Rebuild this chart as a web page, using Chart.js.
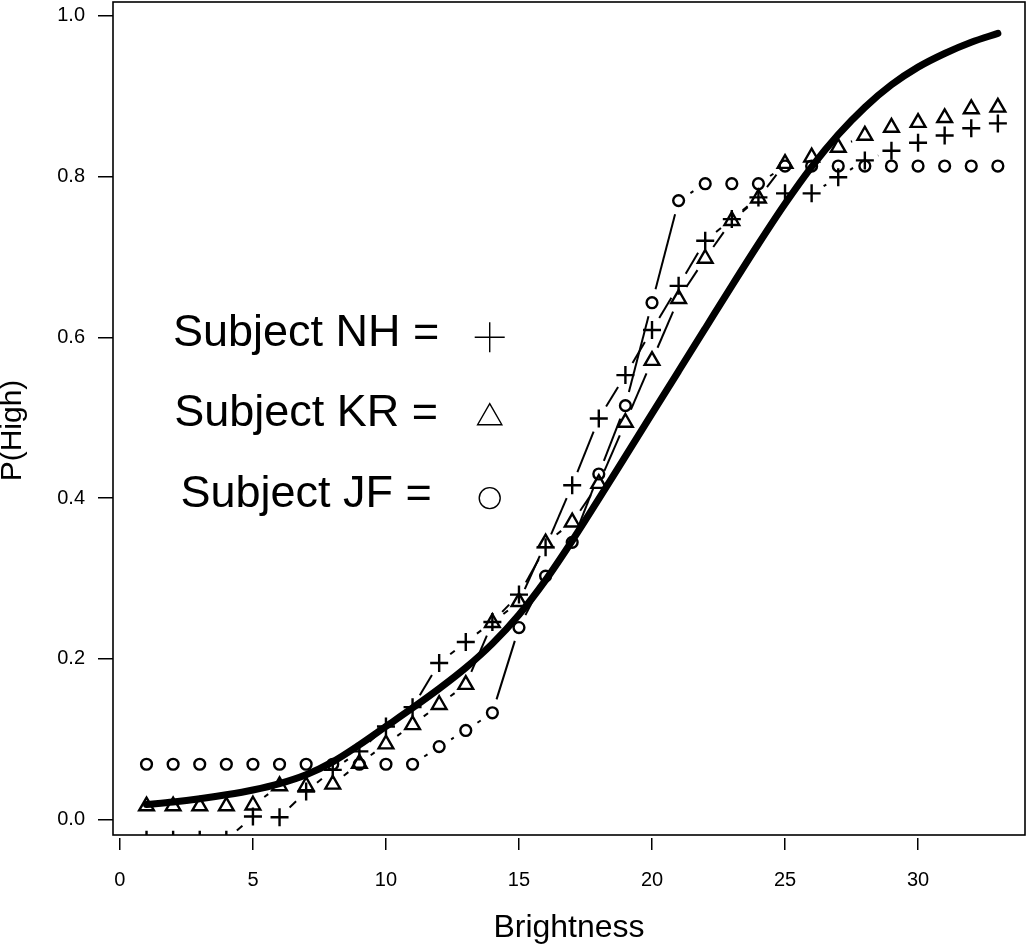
<!DOCTYPE html>
<html><head><meta charset="utf-8">
<script src="https://cdn.jsdelivr.net/npm/chart.js@4.4.1/dist/chart.umd.min.js"></script>
<style>html,body{margin:0;padding:0;background:#fff;} #wrap{width:1029px;height:947px;position:relative;}</style>
</head><body><div id="wrap"><canvas id="c"></canvas></div>
<script>
// ---- data ----
const brightness = [1,2,3,4,5,6,7,8,9,10,11,12,13,14,15,16,17,18,19,20,21,22,23,24,25,26,27,28,29,30,31,32,33];
const subjectNH = [-0.025,-0.025,-0.025,-0.025,0.004,0.003,0.035,0.062,0.085,0.116,0.140,0.195,0.221,0.246,0.280,0.339,0.416,0.499,0.553,0.609,0.664,0.720,0.747,0.774,0.779,0.779,0.799,0.820,0.832,0.842,0.851,0.860,0.866];
const subjectKR = [0.017,0.017,0.017,0.017,0.018,0.042,0.042,0.044,0.070,0.094,0.118,0.143,0.168,0.245,0.271,0.344,0.370,0.418,0.494,0.571,0.648,0.698,0.745,0.773,0.816,0.824,0.836,0.851,0.861,0.867,0.873,0.884,0.886];
const subjectJF = [0.069,0.069,0.069,0.069,0.069,0.069,0.069,0.069,0.069,0.069,0.069,0.091,0.111,0.133,0.239,0.303,0.345,0.430,0.515,0.643,0.770,0.791,0.791,0.791,0.813,0.813,0.813,0.813,0.813,0.813,0.813,0.813,0.813];
const fitted = [0.019,0.022,0.026,0.031,0.037,0.045,0.056,0.072,0.093,0.116,0.139,0.163,0.189,0.219,0.255,0.298,0.347,0.399,0.452,0.505,0.558,0.611,0.664,0.716,0.766,0.812,0.852,0.886,0.914,0.936,0.953,0.967,0.978];
const xTicks = [0,5,10,15,20,25,30];
const yTicks = [0.0,0.2,0.4,0.6,0.8,1.0];
const legendLabels = ['Subject NH =','Subject KR =','Subject JF ='];
const legendSymbols = ['cross','triangle','circle'];
const legendRows = [0.6,0.5,0.4];
const xTitle = 'Brightness';
const yTitle = 'P(High)';

// ---- rendering ----
const FONT = '"Liberation Sans", Arial, Helvetica, sans-serif';
const TRIM = 14; // R type="b" gap around points (px)
function trimmedDash(c){
  const dx = c.p1.x - c.p0.x, dy = c.p1.y - c.p0.y;
  const L = Math.hypot(dx, dy);
  const uniq = 100000 + c.p0DataIndex;
  if (L <= 2*TRIM) return [0, uniq];
  return [0, TRIM, L - 2*TRIM, uniq];
}
const xy = arr => brightness.map((b,i)=>({x:b, y:arr[i]}));

function series(data, style, radius){
  return {
    data: xy(data), showLine:true, borderColor:'#000', borderWidth:2, tension:0,
    pointStyle: style, pointRadius: radius, pointHoverRadius: radius,
    pointBorderColor:'#000', pointBackgroundColor:'rgba(0,0,0,0)', pointBorderWidth:2.4,
    segment:{ borderDash: trimmedDash }
  };
}

const datasets = [
  { data: xy(fitted), showLine:true, borderColor:'#000', borderWidth:7, pointRadius:0,
    cubicInterpolationMode:'monotone', borderCapStyle:'round', borderJoinStyle:'round' },
  series(subjectNH, 'cross', 9),
  series(subjectKR, 'triangle', 8.5),
  series(subjectJF, 'circle', 5.4)
];
const legendRadius = {cross:15, triangle:14, circle:10.5};
legendSymbols.forEach((s,i)=>{
  datasets.push({ data:[{x:13.9, y:legendRows[i]}], showLine:false, pointStyle:s,
    pointRadius:legendRadius[s], pointHoverRadius:legendRadius[s], pointBorderWidth:1.4,
    pointBorderColor:'#000', pointBackgroundColor:'rgba(0,0,0,0)' });
});

const boxPlugin = {
  id:'box',
  afterDatasetsDraw(chart){
    const {ctx, chartArea:a} = chart;
    ctx.save(); ctx.strokeStyle='#000'; ctx.lineWidth=1.6;
    ctx.strokeRect(a.left, a.top, a.right-a.left, a.bottom-a.top);
    ctx.restore();
  }
};
const textPlugin = {
  id:'legendText',
  afterDatasetsDraw(chart){
    const {ctx, chartArea:a, scales:{x, y}} = chart;
    ctx.save();
    ctx.fillStyle='#000'; ctx.font = '45px ' + FONT;
    ctx.textAlign='center'; ctx.textBaseline='middle';
    legendLabels.forEach((t,i)=>{
      ctx.fillText(t, x.getPixelForValue(7), y.getPixelForValue(legendRows[i]) - 4);
    });
    // y-axis title
    ctx.font = '30px ' + FONT;
    ctx.translate(13, (a.top + a.bottom)/2 + 12);
    ctx.rotate(-Math.PI/2);
    ctx.fillText(yTitle, 0, 0);
    ctx.restore();
  }
};

new Chart(document.getElementById('c'), {
  type:'line',
  data:{ datasets },
  options:{
    responsive:true, maintainAspectRatio:false, animation:false, devicePixelRatio:1,
    layout:{ autoPadding:false, padding:{left:0, top:2, right:4, bottom:0} },
    plugins:{ legend:{display:false}, tooltip:{enabled:false} },
    events:[],
    scales:{
      x:{ type:'linear', min:-0.26, max:34.02,
        afterBuildTicks: s => { s.ticks = xTicks.map(v=>({value:v})); },
        afterFit: s => { s.height = 112; s.paddingLeft = 0; s.paddingRight = 0; s.paddingTop = 0; s.paddingBottom = 0; },
        grid:{ drawOnChartArea:false, drawTicks:true, tickLength:15, color:'#000', lineWidth:1.5, tickBorderDash:[0,3,12,100] },
        border:{ display:false },
        ticks:{ color:'#000', font:{family:FONT, size:20}, padding:18, maxRotation:0, autoSkip:false, callback: v => String(v) },
        title:{ display:true, text:xTitle, color:'#000', font:{family:FONT, size:32}, padding:{top:0, bottom:0} }
      },
      y:{ type:'linear', min:-0.019, max:1.017,
        afterBuildTicks: s => { s.ticks = yTicks.map(v=>({value:v})); },
        afterFit: s => { s.width = 113; s.paddingLeft = 0; s.paddingRight = 0; s.paddingTop = 0; s.paddingBottom = 0; },
        grid:{ drawOnChartArea:false, drawTicks:true, tickLength:15, color:'#000', lineWidth:1.5 },
        border:{ display:false },
        ticks:{ color:'#000', font:{family:FONT, size:20}, padding:13, autoSkip:false, callback: v => Number(v).toFixed(1) },
        title:{ display:false }
      }
    }
  },
  plugins:[boxPlugin, textPlugin]
});
</script></body></html>
